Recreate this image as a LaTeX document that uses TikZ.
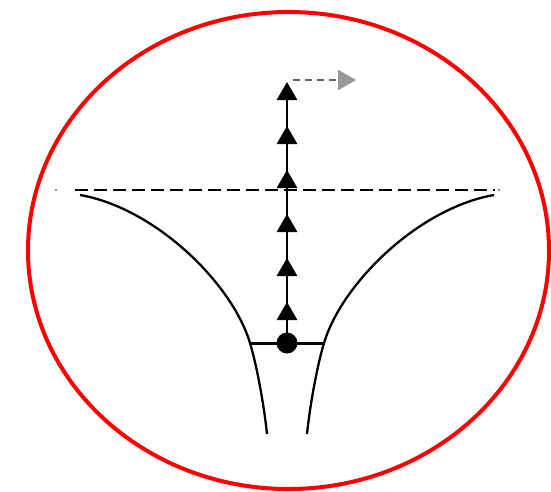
\documentclass[tikz,border=0pt]{standalone}
\usetikzlibrary{shapes.geometric}
\begin{document}
\begin{tikzpicture}[x=1pt,y=-1pt,
  tri/.style={regular polygon,regular polygon sides=3,fill=black,draw=none,inner sep=0pt,minimum size=24pt},
  funnel/.style={line width=2.3pt,black},
  axisline/.style={line width=1.8pt,black},
  levelline/.style={line width=1.8pt,dash pattern=on 13pt off 6pt}]
\useasboundingbox (0,0) rectangle (551,491);
\draw[red,line width=4pt] (288.5,250.5) ellipse [x radius=260.5,y radius=238.5];
% dashed level line
\draw[levelline] (75,190) -- (495,190);
\fill[black!60] (56,190) circle (1.2);
\fill[black!60] (499,190) circle (1.2);
% funnel curves
\draw[funnel] (80,195) .. controls (155,208) and (232,283) .. (250,343)
  .. controls (257.5,368) and (264.5,409) .. (267,434);
\draw[funnel] (494,195) .. controls (419,208) and (342,283) .. (324,343)
  .. controls (316.5,368) and (309.5,409) .. (307,434);
% bar and dot
\coordinate (bl) at (250,343);
\coordinate (br) at (325,343);
\draw[line width=3pt] (bl) -- (br);
\node[circle,fill=black,inner sep=0pt,minimum size=21pt] (dot) at (287,343) {};
\coordinate (top) at (287,84);
\draw[axisline] (dot.center) -- (top);
\foreach \i/\y in {1/94,2/138,3/182,4/226,5/270,6/314} {
  \node[tri] (t\i) at (287,\y) {};
}
% grey dashed arrow
\coordinate (g0) at (293,80);
\coordinate (g1) at (338,80);
\draw[black!60,line width=1.3pt,dash pattern=on 7pt off 5pt] (g0) -- (g1);
\node[regular polygon,regular polygon sides=3,shape border rotate=-90,fill=black!40,inner sep=0pt,minimum size=24pt] (gh) at (344,80) {};
\end{tikzpicture}
\end{document}
